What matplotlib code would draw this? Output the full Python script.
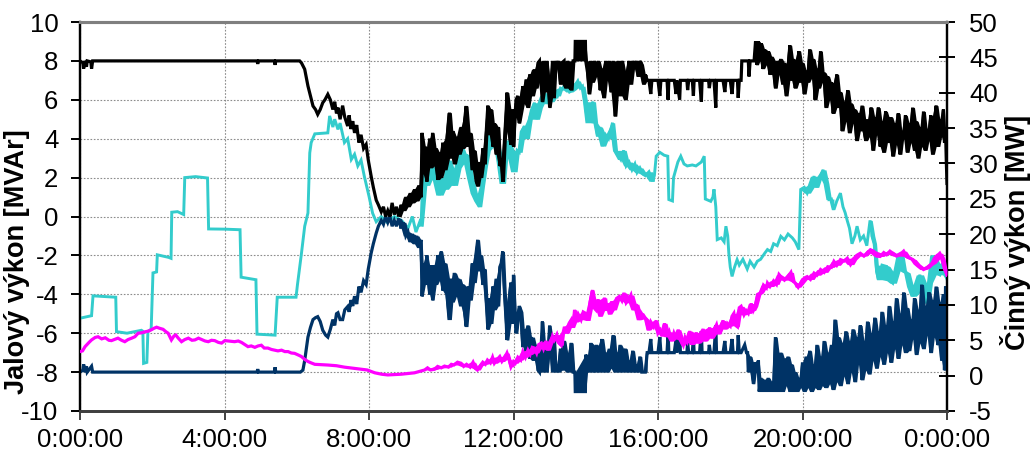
import matplotlib
matplotlib.use("Agg")
import matplotlib.pyplot as plt
import numpy as np

plt.rcParams['font.family'] = ['Liberation Sans', 'DejaVu Sans']
plt.rcParams['axes.unicode_minus'] = False

# --- time axis labels (hours of the day) ---
tick_hours = [0, 4, 8, 12, 16, 20, 24]
tick_labels = ["0:00:00", "4:00:00", "8:00:00", "12:00:00", "16:00:00", "20:00:00", "0:00:00"]

# --- reactive power, unit 1 [MVAr] (black) ---
black_t = [0.0, 0.08, 0.1, 0.13, 0.18, 0.2, 0.3, 0.32, 0.35, 0.4, 4.9, 4.92, 4.94, 5.38, 5.4, 5.42, 6.08,
           6.13, 6.22, 6.31, 6.38, 6.45, 6.52, 6.58, 6.65, 6.72, 6.78, 6.86, 6.93, 7.0, 7.05, 7.1, 7.14, 7.2,
           7.27, 7.33, 7.41, 7.45, 7.5, 7.55, 7.6, 7.66, 7.72, 7.78, 7.85, 7.92, 7.98, 8.06, 8.12, 8.2, 8.26,
           8.34, 8.4, 8.46, 8.52, 8.58, 8.64, 8.7, 8.76, 8.82, 8.89, 8.95, 9.02, 9.08, 9.14, 9.2, 9.26, 9.32,
           9.38, 9.44, 9.47, 9.5, 9.56, 9.6, 9.63, 9.68, 9.72, 9.76, 9.8, 9.86, 9.9, 9.95, 10.0, 10.04, 10.1,
           10.16, 10.23, 10.28, 10.32, 10.36, 10.42, 10.48, 10.55, 10.6, 10.65, 10.69, 10.74, 10.8, 10.86,
           10.92, 10.97, 11.01, 11.06, 11.1, 11.15, 11.2, 11.25, 11.29, 11.33, 11.38, 11.43, 11.47, 11.52,
           11.58, 11.62, 11.66, 11.7, 11.75, 11.8, 11.82, 11.87, 11.93, 11.97, 12.0, 12.04, 12.07, 12.12,
           12.16, 12.2, 12.26, 12.3, 12.35, 12.4, 12.45, 12.5, 12.58, 12.63, 12.68, 12.72, 12.76, 12.8, 12.84,
           12.88, 12.92, 12.96, 13.0, 13.04, 13.08, 13.12, 13.16, 13.2, 13.25, 13.3, 13.34, 13.4, 13.45, 13.5,
           13.55, 13.6, 13.65, 13.7, 13.71, 13.99, 14.0, 14.05, 14.1, 14.14, 14.18, 14.24, 14.3, 14.35, 14.4,
           14.45, 14.5, 14.55, 14.6, 14.65, 14.7, 14.76, 14.82, 14.86, 14.9, 14.95, 15.0, 15.05, 15.1, 15.15,
           15.2, 15.25, 15.3, 15.35, 15.4, 15.45, 15.5, 15.55, 15.6, 15.65, 15.7, 15.75, 15.8, 15.83, 16.0,
           16.05, 16.08, 16.25, 16.28, 16.3, 16.45, 16.5, 16.52, 16.6, 16.62, 16.8, 16.82, 16.85, 16.95,
           16.98, 17.0, 17.15, 17.2, 17.22, 17.4, 17.42, 17.45, 17.55, 17.6, 17.62, 17.8, 17.85, 17.88, 18.0,
           18.05, 18.08, 18.2, 18.22, 18.25, 18.3, 18.32, 18.5, 18.52, 18.55, 18.66, 18.7, 18.74, 18.78, 18.82,
           18.86, 18.9, 18.95, 19.0, 19.05, 19.1, 19.15, 19.2, 19.25, 19.3, 19.35, 19.4, 19.45, 19.5, 19.55,
           19.6, 19.65, 19.7, 19.75, 19.8, 19.85, 19.9, 19.95, 20.0, 20.05, 20.1, 20.15, 20.2, 20.25, 20.3,
           20.35, 20.4, 20.45, 20.5, 20.55, 20.6, 20.65, 20.7, 20.75, 20.8, 20.85, 20.9, 20.95, 21.0, 21.05,
           21.1, 21.15, 21.2, 21.25, 21.3, 21.35, 21.4, 21.45, 21.5, 21.55, 21.6, 21.65, 21.7, 21.75, 21.8,
           21.85, 21.9, 21.95, 22.0, 22.05, 22.1, 22.15, 22.2, 22.25, 22.3, 22.35, 22.4, 22.45, 22.5, 22.55,
           22.6, 22.65, 22.7, 22.75, 22.8, 22.85, 22.9, 22.95, 23.0, 23.05, 23.1, 23.15, 23.2, 23.25, 23.3,
           23.35, 23.4, 23.45, 23.5, 23.55, 23.6, 23.65, 23.7, 23.75, 23.8, 23.85, 23.9, 23.93, 23.96, 23.98, 24.0]
black_v = [8.0, 7.9, 7.6, 8.0, 7.7, 8.0, 7.95, 7.6, 8.0, 8.0, 8.0, 7.85, 8.0, 8.0, 7.8, 8.0, 8.0,
           7.9, 7.57, 6.71, 6.2, 5.68, 5.5, 5.25, 5.5, 5.85, 6.0, 6.28, 6.0, 5.5, 5.9, 5.3, 5.6, 5.0,
           5.7, 5.1, 4.65, 5.2, 4.5, 4.9, 4.3, 4.7, 3.8, 4.2, 3.5, 3.7, 2.9, 2.07, 1.5, 0.84, 0.6,
           0.24, 0.5, 0.0, 0.3, 0.0, 0.7, 0.1, 0.5, 0.0, 0.6, 0.3, 1.0, 0.5, 1.2, 0.7, 1.4, 0.8,
           1.6, 1.0, 4.3, 2.2, 3.6, 1.8, 3.0, 4.0, 2.5, 4.3, 2.6, 3.5, 1.9, 3.3, 2.0, 3.8, 2.4,
           4.0, 5.34, 3.0, 4.4, 2.7, 4.1, 3.2, 4.6, 3.5, 5.0, 5.68, 3.6, 4.3, 2.4,
           3.4, 1.8, 1.56, 2.8, 2.0, 3.5, 2.7, 4.5, 5.7, 4.2, 5.5, 3.6, 4.8, 3.2,
           4.6, 2.6, 3.0, 1.8, 3.9, 5.5, 6.37, 4.4, 3.7, 5.5, 3.6, 5.1, 6.0, 6.2,
           4.8, 5.4, 6.7, 5.8, 7.05, 5.6, 7.3, 6.2, 7.57, 6.6, 7.9, 8.0, 6.9, 5.9, 8.0,
           6.4, 8.0, 7.2, 5.6, 6.8, 8.0, 6.1, 8.0, 7.6, 8.0, 6.8, 7.9, 8.0, 6.6, 8.0,
           7.4, 6.5, 8.0, 8.0, 9.0, 9.0, 8.0, 7.4, 6.3, 8.0, 6.9, 8.0, 7.2, 8.0, 6.5,
           7.6, 6.1, 8.0, 7.0, 8.0, 6.4, 8.0, 5.16, 7.0, 8.0, 6.2, 8.0, 7.5, 6.0, 7.4,
           8.0, 6.8, 8.0, 7.6, 8.0, 7.2, 8.0, 7.8, 6.8, 7.3, 7.0, 7.0, 6.3, 7.0, 7.0,
           6.2, 7.0, 7.0, 6.0, 7.0, 7.0, 6.3, 7.0, 6.0, 7.0, 7.0, 6.5, 7.0, 7.0,
           6.2, 7.0, 7.0, 5.9, 7.0, 7.0, 6.6, 7.0, 7.0, 5.6, 7.0, 7.0, 6.4, 7.0, 7.0,
           6.3, 7.0, 7.0, 6.1, 7.0, 7.0, 8.0, 8.0, 7.2, 8.0, 8.0, 9.0, 7.8, 9.0, 8.0,
           8.9, 7.6, 8.6, 7.8, 8.5, 7.3, 8.2, 7.9, 6.6, 8.0, 7.3, 8.1, 6.8, 7.9, 6.2,
           7.6, 8.8, 7.0, 8.1, 6.6, 7.4, 8.5, 6.9, 7.9, 6.3, 7.5, 6.9, 8.6, 7.1, 8.1,
           6.0, 7.6, 6.6, 8.5, 6.9, 7.4, 5.6, 7.2, 6.0, 6.9, 5.3, 6.5, 7.3, 5.6, 6.4,
           4.4, 5.9, 4.9, 6.5, 4.3, 5.8, 4.8, 5.5, 3.9, 5.3, 4.4, 5.7, 4.5, 3.9, 5.0,
           4.1, 5.6, 3.4, 5.1, 4.2, 5.6, 3.6, 4.9, 3.3, 5.4, 3.8, 4.6, 5.1, 3.1, 4.8,
           3.7, 5.3, 3.2, 4.4, 4.0, 5.2, 3.3, 4.8, 3.8, 5.6, 3.4, 4.9, 3.0, 4.6, 3.6,
           5.4, 3.4, 4.5, 3.9, 5.2, 3.2, 4.7, 5.7, 3.6, 5.0, 4.1, 5.5, 3.8, 4.4, 2.9, 1.7]

# --- reactive power, unit 2 [MVAr] (dark blue) ---
navy_t = [0.0, 0.08, 0.1, 0.13, 0.18, 0.2, 0.32, 0.35, 4.9, 4.92, 4.94, 5.38, 5.4, 5.42, 6.1, 6.17,
          6.22, 6.31, 6.38, 6.45, 6.52, 6.58, 6.65, 6.72, 6.8, 6.86, 6.93, 7.0, 7.05, 7.1, 7.14, 7.2,
          7.27, 7.33, 7.41, 7.45, 7.5, 7.55, 7.6, 7.66, 7.72, 7.78, 7.85, 7.92, 7.98, 8.06, 8.12, 8.2, 8.26,
          8.34, 8.4, 8.46, 8.52, 8.58, 8.64, 8.7, 8.76, 8.82, 8.89, 8.95, 9.02, 9.08, 9.14, 9.2, 9.26, 9.32,
          9.38, 9.44, 9.47, 9.5, 9.56, 9.6, 9.63, 9.68, 9.72, 9.76, 9.8, 9.86, 9.9, 9.95, 10.0, 10.04, 10.1,
          10.16, 10.23, 10.28, 10.32, 10.36, 10.42, 10.48, 10.55, 10.6, 10.65, 10.69, 10.74, 10.8, 10.86,
          10.92, 10.97, 11.01, 11.06, 11.1, 11.15, 11.2, 11.25, 11.29, 11.33, 11.38, 11.43, 11.47, 11.52,
          11.58, 11.62, 11.66, 11.7, 11.75, 11.8, 11.82, 11.87, 11.93, 11.97, 12.0, 12.04, 12.07, 12.12,
          12.16, 12.2, 12.26, 12.3, 12.35, 12.4, 12.45, 12.5, 12.58, 12.63, 12.68, 12.72, 12.76, 12.8, 12.84,
          12.88, 12.92, 12.96, 13.0, 13.04, 13.08, 13.12, 13.16, 13.2, 13.25, 13.3, 13.34, 13.4, 13.45, 13.5,
          13.55, 13.6, 13.65, 13.7, 13.71, 13.99, 14.0, 14.05, 14.1, 14.14, 14.18, 14.24, 14.3, 14.35, 14.4,
          14.45, 14.5, 14.55, 14.6, 14.65, 14.7, 14.76, 14.82, 14.86, 14.9, 14.95, 15.0, 15.05, 15.1, 15.15,
          15.2, 15.25, 15.3, 15.35, 15.4, 15.45, 15.5, 15.55, 15.6, 15.65, 15.7, 15.75, 15.8, 15.83, 16.0,
          16.05, 16.08, 16.25, 16.28, 16.3, 16.45, 16.5, 16.52, 16.6, 16.62, 16.8, 16.82, 16.85, 16.95,
          16.98, 17.0, 17.15, 17.2, 17.22, 17.4, 17.42, 17.45, 17.55, 17.6, 17.62, 17.8, 17.85, 17.88, 18.0,
          18.05, 18.08, 18.2, 18.22, 18.25, 18.3, 18.4, 18.45, 18.48, 18.5, 18.55, 18.6, 18.64, 18.68, 18.72,
          18.78, 18.8, 18.85, 18.9, 18.95, 19.0, 19.05, 19.1, 19.15, 19.2, 19.25, 19.3, 19.35, 19.4, 19.45,
          19.5, 19.55, 19.6, 19.65, 19.7, 19.75, 19.8, 19.85, 19.9, 19.95, 20.0, 20.05, 20.1, 20.15, 20.2,
          20.25, 20.3, 20.35, 20.4, 20.45, 20.5, 20.55, 20.6, 20.65, 20.7, 20.75, 20.8, 20.85, 20.9, 20.95,
          21.0, 21.05, 21.1, 21.15, 21.2, 21.25, 21.3, 21.35, 21.4, 21.45, 21.5, 21.55, 21.6, 21.65, 21.7,
          21.75, 21.8, 21.85, 21.9, 21.95, 22.0, 22.05, 22.1, 22.15, 22.2, 22.25, 22.3, 22.35, 22.4, 22.45,
          22.5, 22.55, 22.6, 22.65, 22.7, 22.75, 22.8, 22.85, 22.9, 22.95, 23.0, 23.05, 23.1, 23.15, 23.2,
          23.25, 23.3, 23.35, 23.4, 23.45, 23.5, 23.55, 23.6, 23.65, 23.7, 23.75, 23.8, 23.85, 23.9, 23.93,
          23.96, 24.0]
navy_v = [-8.0, -7.9, -7.6, -8.0, -7.7, -8.0, -7.7, -8.0, -8.0, -7.85, -8.0, -8.0, -7.75, -8.0, -8.0, -7.9,
          -7.4, -6.2, -5.7, -5.3, -5.2, -5.15, -5.4, -5.85, -6.1, -6.2, -5.8, -5.3, -5.6, -5.0, -4.95, -5.3,
          -5.3, -4.8, -4.63, -4.9, -4.3, -4.6, -4.1, -4.5, -3.6, -3.9, -3.3, -3.5, -2.7, -1.88, -1.4, -0.85, -0.5,
          -0.2, -0.4, 0.0, -0.3, 0.0, -0.5, -0.2, -0.5, -0.1, -0.6, -0.3, -1.0, -0.8, -1.3, -0.9, -1.4, -1.0,
          -1.6, -1.2, -4.1, -2.4, -3.5, -2.0, -2.9, -4.0, -2.5, -4.3, -2.5, -3.5, -2.0, -3.3, -1.8, -3.8, -2.4,
          -4.0, -5.3, -3.2, -4.4, -2.9, -4.1, -3.2, -4.6, -3.5, -5.0, -5.66, -3.6, -4.3, -2.4,
          -3.4, -1.8, -1.2, -2.8, -2.0, -3.5, -2.7, -4.5, -5.8, -4.2, -5.5, -3.6, -4.8, -3.2,
          -4.6, -2.6, -2.4, -1.8, -3.9, -5.5, -6.35, -4.4, -3.4, -5.5, -3.0, -4.9, -6.0, -5.3,
          -4.6, -4.9, -6.7, -5.8, -7.0, -5.6, -7.3, -6.2, -7.4, -6.6, -7.9, -8.0, -6.9, -5.4, -8.0,
          -6.4, -8.0, -7.2, -5.6, -6.8, -8.0, -6.1, -8.0, -7.6, -8.0, -6.8, -7.9, -6.4, -7.0, -8.0,
          -7.4, -6.5, -8.0, -8.0, -9.0, -9.0, -7.1, -7.4, -8.0, -6.5, -7.6, -8.0, -6.6, -8.0, -7.2,
          -6.3, -8.0, -7.0, -8.0, -6.8, -7.8, -6.1, -8.0, -7.0, -8.0, -6.6, -8.0, -7.2, -6.8, -8.0,
          -7.4, -8.0, -6.9, -8.0, -7.6, -8.0, -7.2, -8.0, -8.0, -8.0, -7.0, -7.0, -6.3, -7.0, -7.0,
          -6.2, -7.0, -7.0, -6.0, -7.0, -7.0, -6.3, -7.0, -6.0, -7.0, -7.0, -6.5, -7.0, -7.0,
          -6.2, -7.0, -7.0, -5.9, -7.0, -7.0, -6.6, -7.0, -7.0, -5.6, -7.0, -7.0, -6.4, -7.0, -7.0,
          -6.3, -7.0, -7.0, -6.1, -7.0, -7.0, -6.6, -7.0, -7.0, -8.0, -7.2, -8.0, -8.6, -7.5, -8.0,
          -7.4, -9.0, -8.3, -9.0, -8.4, -9.0, -8.3, -9.0, -8.5, -9.0, -6.2, -8.6, -9.0, -7.0, -9.0,
          -7.3, -8.7, -7.2, -9.0, -7.6, -9.0, -8.0, -9.0, -8.3, -8.8, -7.5, -9.0, -7.2, -8.8, -6.9,
          -9.0, -7.6, -8.8, -6.6, -8.9, -7.2, -8.7, -6.4, -8.8, -7.0, -8.6, -6.6, -8.9, -5.3, -8.5,
          -6.2, -8.7, -6.5, -8.2, -5.9, -8.6, -6.4, -8.0, -5.8, -8.5, -6.2, -7.6, -5.6, -8.4, -6.4,
          -7.9, -5.4, -8.1, -6.0, -7.4, -5.2, -7.8, -5.9, -7.2, -4.9, -7.6, -5.6, -7.0, -4.6, -7.5,
          -5.4, -6.8, -4.2, -7.3, -5.0, -6.6, -3.9, -7.0, -4.7, -6.9, -5.3, -6.3, -4.2, -7.1, -4.8,
          -6.5, -3.5, -6.8, -4.6, -6.1, -3.9, -7.0, -4.3, -6.2, -3.6, -6.6, -4.4, -7.4, -4.0, -7.9,
          -3.6, -4.8]

# --- reactive power, total [MVAr] (turquoise) ---
cyan_t = [0.0, 0.32, 0.36, 0.99, 1.01, 1.3, 1.7, 1.74, 1.76, 1.85, 1.88, 1.97, 2.02, 2.12, 2.14, 2.45,
          2.52, 2.54, 2.7, 2.87, 2.9, 3.2, 3.53, 3.56, 4.0, 4.43, 4.46, 4.87, 4.9, 5.4, 5.46, 5.98, 6.02,
          6.13, 6.22, 6.31, 6.36, 6.4, 6.5, 6.86, 6.91, 7.0, 7.05, 7.14, 7.2, 7.32, 7.41, 7.51, 7.6, 7.69,
          7.78, 7.87, 8.0, 8.1, 8.2, 8.34, 8.5, 8.7, 8.9, 9.08, 9.2, 9.3, 9.4, 9.44, 9.5, 9.6, 9.68, 9.75,
          9.85, 9.95, 10.05, 10.12, 10.2, 10.28, 10.35, 10.45, 10.55, 10.62, 10.7, 10.8, 10.9, 11.0, 11.06,
          11.12, 11.2, 11.28, 11.36, 11.45, 11.52, 11.6, 11.7, 11.78, 11.84, 11.92, 12.02, 12.1, 12.16,
          12.24, 12.3, 12.38, 12.44, 12.52, 12.58, 12.65, 12.72, 12.8, 12.85, 12.92, 13.0, 13.04, 13.12,
          13.22, 13.3, 13.36, 13.45, 13.55, 13.64, 13.72, 13.78, 13.85, 13.91, 13.98, 14.05, 14.12, 14.2,
          14.27, 14.33, 14.4, 14.46, 14.55, 14.63, 14.7, 14.74, 14.8, 14.88, 14.97, 15.05, 15.12, 15.2,
          15.28, 15.36, 15.42, 15.5, 15.58, 15.65, 15.75, 15.85, 15.9, 15.95, 16.05, 16.17, 16.27, 16.3,
          16.4, 16.43, 16.55, 16.63, 16.72, 16.81, 16.95, 17.05, 17.2, 17.28, 17.31, 17.46, 17.52, 17.55,
          17.6, 17.64, 17.75, 17.83, 17.88, 17.93, 17.96, 18.0, 18.05, 18.12, 18.19, 18.25, 18.35, 18.47,
          18.55, 18.66, 18.75, 18.84, 18.95, 19.03, 19.12, 19.2, 19.3, 19.4, 19.5, 19.6, 19.72, 19.8, 19.9,
          19.95, 20.05, 20.13, 20.22, 20.32, 20.4, 20.45, 20.52, 20.57, 20.65, 20.73, 20.8, 20.87, 20.95,
          21.05, 21.12, 21.18, 21.24, 21.3, 21.37, 21.45, 21.51, 21.6, 21.69, 21.78, 21.87, 21.93, 22.0,
          22.05, 22.1, 22.2, 22.33, 22.42, 22.5, 22.6, 22.7, 22.8, 22.88, 22.98, 23.06, 23.15, 23.25, 23.35,
          23.43, 23.52, 23.6, 23.7, 23.8, 23.88, 23.95, 24.0]
cyan_v = [-5.23, -5.1, -4.08, -4.15, -5.92, -6.0, -5.85, -5.9, -7.55, -7.5, -5.9, -5.8, -2.9, -2.85, -1.97, -2.1,
          -2.15, 0.22, 0.25, 0.1, 2.0, 2.05, 1.98, -0.64, -0.65, -0.68, -3.12, -3.25, -6.05, -6.1, -4.15, -4.15, -3.5,
          -1.9, -0.5, 0.18, 3.27, 3.8, 4.25, 4.3, 5.17, 4.6, 5.0, 4.48, 4.8, 3.8, 4.0, 2.93, 3.2, 2.6,
          2.9, 2.07, 1.04, 0.17, -0.27, 0.0, -0.3, 0.0, -0.2, -0.6, 0.0, -0.8, -0.3, -0.5, 2.5, 1.6, 2.8, 1.9,
          2.4, 1.1, 2.0, 1.4, 2.9, 2.2, 1.6, 2.5, 3.6, 2.7, 3.2, 2.0, 1.2, 0.8, 0.5,
          1.6, 2.6, 3.4, 4.5, 3.6, 3.9, 2.8, 1.7, 3.0, 3.9, 3.3, 2.3, 3.4, 3.3,
          4.4, 4.65, 4.0, 5.0, 5.5, 5.85, 5.0, 5.6, 6.2, 6.37, 5.8, 6.3, 5.9, 6.5,
          6.2, 6.6, 6.54, 6.8, 6.4, 6.5, 6.8, 6.97, 6.6, 6.7, 5.9, 4.82, 5.6, 5.9,
          4.8, 4.13, 4.6, 3.62, 4.2, 4.0, 4.5, 4.82, 3.4, 3.2, 2.93, 3.4, 2.6, 2.8,
          2.4, 2.7, 2.26, 2.5, 2.2, 2.1, 2.3, 1.81, 2.1, 3.1, 3.3, 3.15, 3.1, 0.87,
          0.8, 2.0, 2.8, 3.1, 2.7, 2.6, 2.65, 2.6, 2.8, 3.1, 0.9, 0.78, 1.0, 1.4,
          0.5, -1.19, -1.1, -1.3, -0.5, -1.0, -1.88, -2.6, -3.08, -2.6, -2.22, -2.5, -2.2, -2.7,
          -2.3, -2.6, -2.3, -2.2, -1.9, -1.7, -1.8, -1.4, -1.5, -1.02, -1.2, -0.9, -1.1, -1.3, -1.7,
          1.39, 1.5, 1.2, 1.6, 2.07, 1.5, 1.9, 2.2, 2.4, 1.7, 0.87, 0.9, 0.35, 0.8,
          1.2, 0.5, 0.2, -0.22, -0.6, -1.4, -1.0, -0.5, -1.2, -1.0, -1.5, -0.2, -1.0, -1.4,
          -2.8, -3.25, -2.5, -2.57, -3.3, -3.43, -2.8, -1.88, -2.8, -2.9, -3.6, -4.1, -3.5, -3.0, -3.9,
          -4.45, -3.4, -2.0, -2.9, -3.0, -2.4, -2.74, -3.2]

# --- active power [MW] (magenta), right axis ---
magenta_t = [0.0, 0.07, 0.14, 0.25, 0.32, 0.42, 0.5, 0.6, 0.7, 0.8, 0.87, 0.95, 1.05, 1.15, 1.24, 1.33,
             1.43, 1.52, 1.61, 1.7, 1.8, 1.9, 1.98, 2.05, 2.12, 2.2, 2.3, 2.38, 2.44, 2.53, 2.6, 2.65, 2.72,
             2.81, 2.9, 3.0, 3.1, 3.18, 3.28, 3.37, 3.46, 3.55, 3.64, 3.73, 3.83, 3.92, 4.01, 4.1, 4.2, 4.28,
             4.38, 4.47, 4.56, 4.65, 4.74, 4.84, 4.93, 5.02, 5.1, 5.2, 5.3, 5.39, 5.48, 5.58, 5.67, 5.76,
             5.85, 5.94, 6.05, 6.13, 6.22, 6.31, 6.4, 6.5, 6.7, 6.86, 7.1, 7.32, 7.55, 7.79, 7.95, 8.16, 8.35,
             8.52, 8.7, 8.89, 9.08, 9.26, 9.4, 9.54, 9.62, 9.7, 9.81, 9.9, 10.0, 10.09, 10.2, 10.28, 10.35,
             10.45, 10.55, 10.62, 10.7, 10.8, 10.88, 10.95, 11.0, 11.08, 11.15, 11.22, 11.28, 11.36, 11.42,
             11.47, 11.55, 11.62, 11.68, 11.75, 11.82, 11.88, 11.93, 12.0, 12.05, 12.12, 12.2, 12.26, 12.33,
             12.4, 12.46, 12.52, 12.58, 12.64, 12.7, 12.77, 12.83, 12.9, 12.95, 13.02, 13.08, 13.13, 13.2,
             13.26, 13.32, 13.38, 13.41, 13.48, 13.54, 13.6, 13.65, 13.69, 13.75, 13.8, 13.87, 13.93, 14.0,
             14.06, 14.12, 14.19, 14.23, 14.28, 14.34, 14.4, 14.46, 14.52, 14.58, 14.6, 14.66, 14.72, 14.79,
             14.85, 14.93, 15.0, 15.06, 15.12, 15.18, 15.25, 15.33, 15.4, 15.47, 15.53, 15.6, 15.67, 15.74,
             15.8, 15.88, 15.95, 16.0, 16.06, 16.12, 16.18, 16.25, 16.31, 16.38, 16.44, 16.5, 16.56, 16.63,
             16.7, 16.75, 16.81, 16.88, 16.94, 17.0, 17.06, 17.12, 17.18, 17.25, 17.3, 17.37, 17.43, 17.5,
             17.55, 17.62, 17.68, 17.74, 17.8, 17.86, 17.92, 18.0, 18.05, 18.1, 18.15, 18.2, 18.25, 18.3,
             18.38, 18.44, 18.5, 18.58, 18.64, 18.7, 18.76, 18.85, 18.92, 19.0, 19.03, 19.1, 19.2, 19.28,
             19.35, 19.4, 19.5, 19.6, 19.68, 19.75, 19.8, 19.88, 19.95, 20.05, 20.13, 20.22, 20.32, 20.4,
             20.5, 20.6, 20.7, 20.8, 20.87, 20.95, 21.05, 21.15, 21.24, 21.33, 21.42, 21.5, 21.6, 21.7,
             21.78, 21.88, 21.97, 22.05, 22.15, 22.25, 22.33, 22.42, 22.5, 22.6, 22.7, 22.8, 22.88, 22.98,
             23.06, 23.15, 23.25, 23.35, 23.43, 23.52, 23.6, 23.7, 23.8, 23.88, 23.95, 24.0]
magenta_v = [3.4, 3.5, 4.1, 4.7, 5.05, 5.4, 5.5, 5.2, 5.35, 5.0, 4.95, 5.1, 5.3, 5.0, 4.8, 5.1,
             5.3, 5.5, 6.0, 6.05, 6.2, 6.3, 6.5, 6.7, 6.85, 6.7, 6.55, 6.2, 6.0, 5.05, 5.6, 5.75, 5.3,
             4.8, 5.1, 5.3, 5.0, 5.05, 5.3, 5.1, 4.9, 4.8, 5.0, 4.95, 4.7, 4.6, 4.95, 4.9, 4.85, 4.8,
             4.9, 4.7, 4.4, 4.1, 4.2, 4.0, 4.2, 4.3, 3.9, 3.9, 3.7, 3.6, 3.5, 3.6, 3.4, 3.4,
             3.2, 3.15, 2.9, 2.7, 2.3, 2.0, 1.8, 1.6, 1.55, 1.5, 1.4, 1.2, 1.05, 0.9, 0.8, 0.4, 0.2,
             0.1, 0.15, 0.2, 0.3, 0.4, 0.6, 0.8, 1.1, 0.8, 0.9, 1.3, 1.1, 1.35, 1.2, 1.6, 1.5,
             1.9, 1.75, 1.3, 1.6, 1.2, 1.9, 1.0, 0.8, 1.4, 1.9, 1.6, 2.2, 1.8, 2.6,
             1.75, 2.3, 2.7, 2.0, 2.45, 3.2, 2.3, 1.25, 2.0, 1.75, 2.6, 2.2, 3.4, 2.6,
             3.6, 3.0, 4.0, 3.9, 3.2, 4.4, 4.6, 3.8, 4.9, 3.6, 4.5, 5.6, 5.05, 5.8,
             4.6, 4.3, 6.2, 6.9, 6.0, 7.4, 7.9, 6.8, 9.3, 7.6, 8.6, 7.9, 9.0, 8.8,
             7.8, 10.4, 12.1, 9.6, 9.3, 10.8, 8.4, 9.8, 11.0, 9.2, 10.2, 8.7, 10.5, 9.3,
             10.9, 11.2, 10.6, 11.7, 10.3, 10.7, 11.4, 9.3, 10.1, 7.9, 8.9, 8.35, 8.0, 6.45,
             7.6, 6.9, 7.8, 6.0, 6.45, 5.6, 7.4, 5.5, 6.2, 4.9, 6.0, 5.2, 6.5, 5.05,
             4.3, 5.4, 4.8, 6.3, 4.4, 5.05, 6.1, 4.6, 5.5, 6.6, 4.9, 5.75, 6.8, 5.3,
             6.45, 7.2, 5.9, 6.9, 7.8, 6.6, 7.4, 7.0, 8.4, 8.8, 7.1, 6.9, 9.6, 9.8,
             8.6, 9.2, 8.8, 10.2, 9.2, 9.8, 11.5, 11.7, 12.8, 12.4, 13.1, 12.6, 13.4, 12.9,
             14.3, 14.0, 13.5, 14.0, 14.6, 13.3, 13.1, 12.5, 13.1, 13.8, 14.0, 13.6, 14.5, 14.2,
             15.0, 14.6, 15.4, 15.3, 16.15, 15.6, 16.4, 16.2, 16.6, 15.7, 16.4, 17.0, 17.3, 16.9,
             17.3, 17.8, 17.6, 16.9, 16.85, 17.4, 17.1, 17.6, 17.3, 16.9, 17.1, 17.6, 16.85, 16.6,
             16.4, 15.8, 15.4, 15.0, 15.2, 15.6, 15.9, 16.8, 17.3, 16.5, 15.0, 14.2]

# hours where each logger trace is dense enough to render as a solid band
black_dense = [(8.8, 15.7), (18.66, 24.0)]
navy_dense = [(8.8, 15.7), (18.48, 24.0)]
cyan_dense = [(9.44, 15.9), (19.95, 20.9), (21.8, 24.0)]
magenta_dense = [(9.5, 24.0)]


def draw_trace(axis, t, v, dense, color, lw, z):
    """Plot a trace; inside dense spans also shade the local min/max band."""
    t = np.asarray(t, dtype=float)
    v = np.asarray(v, dtype=float)
    for t0, t1 in dense:
        idx = np.where((t >= t0) & (t <= t1))[0]
        if idx.size < 3:
            continue
        seg = v[idx]
        prev_v = np.r_[seg[0], seg[:-1]]
        next_v = np.r_[seg[1:], seg[-1]]
        lo = np.minimum(np.minimum(prev_v, seg), next_v)
        hi = np.maximum(np.maximum(prev_v, seg), next_v)
        axis.fill_between(t[idx], lo, hi, color=color, lw=0, zorder=z)
    axis.plot(t, v, color=color, lw=lw, solid_joinstyle="miter", zorder=z)


fig = plt.figure(figsize=(10.34, 4.57), dpi=100)
ax = fig.add_axes([80 / 1034, 1 - 411 / 457, 867 / 1034, 389 / 457])
ax2 = ax.twinx()

draw_trace(ax, cyan_t, cyan_v, cyan_dense, "#33CCCC", 2.1, 3)
draw_trace(ax, navy_t, navy_v, navy_dense, "#003366", 2.3, 4)
draw_trace(ax, black_t, black_v, black_dense, "#000000", 2.3, 5)
draw_trace(ax2, magenta_t, magenta_v, magenta_dense, "#FF00FF", 2.3, 3)

ax.set_xlim(0, 24)
ax.set_ylim(-10, 10)
ax2.set_ylim(-5, 50)
ax.set_xticks(tick_hours)
ax.set_xticklabels(tick_labels)
ax.set_yticks(range(-10, 11, 2))
ax2.set_yticks(range(-5, 51, 5))

ax.grid(True, color="#8c8c8c", linestyle=(0, (1.5, 1.5)), linewidth=0.8)
ax.set_axisbelow(True)

for a in (ax, ax2):
    a.spines["top"].set_color("#7f7f7f")
    a.spines["top"].set_linewidth(2.2)
    a.spines["bottom"].set_color("#404040")
    a.spines["bottom"].set_linewidth(2.0)
    a.spines["left"].set_color("#000000")
    a.spines["left"].set_linewidth(1.6)
    a.spines["right"].set_color("#000000")
    a.spines["right"].set_linewidth(1.6)

ax.tick_params(axis="y", direction="out", length=6.5, width=1.4, labelsize=18.5, pad=9)
ax.tick_params(axis="x", direction="out", length=6.5, width=1.4, labelsize=18.5, pad=6, color="#404040")
ax2.tick_params(axis="y", direction="inout", length=12, width=1.4, labelsize=18.5, pad=10)

ax.set_ylabel("Jalový výkon [MVAr]", fontsize=19.5, fontweight="bold")
ax2.set_ylabel("Činný výkon [MW]", fontsize=19.5, fontweight="bold", rotation=90)
ax.yaxis.set_label_coords(-0.0575, 0.383)
ax2.yaxis.set_label_coords(1.061, 0.46)

fig.savefig("out.png", dpi=100)
